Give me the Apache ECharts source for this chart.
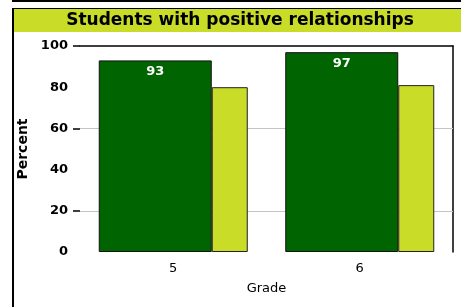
<!DOCTYPE html>
<html>
<head>
<meta charset="utf-8">
<style>
  html, body { margin: 0; padding: 0; background: #fff; }
  #chart { width: 461px; height: 307px; }
</style>
<script src="https://cdn.jsdelivr.net/npm/echarts@6/dist/echarts.min.js"></script>
</head>
<body>
<div id="chart"></div>
<script>
// data
const grades = ['5', '6'];
const students = [93, 97];   // dark green, labelled
const compare = [80, 81];    // light green, no label
const yTicks = [0, 20, 40, 60, 80, 100];
const gridValues = [20, 60]; // only these get a grey line + tick

const DARK = '#006400';
const LIGHT = '#c8dc28';
const FONT = 'DejaVu Sans';

const chart = echarts.init(document.getElementById('chart'), null, { renderer: 'canvas' });

chart.setOption({
  animation: false,
  textStyle: { fontFamily: FONT },
  graphic: [
    // frame + title band
    { type: 'rect', shape: { x: 12, y: 0, width: 449, height: 2 }, style: { fill: '#000' } },
    { type: 'rect', shape: { x: 12, y: 8, width: 449, height: 1 }, style: { fill: '#000' } },
    { type: 'rect', shape: { x: 12, y: 8, width: 2, height: 299 }, style: { fill: '#000' } },
    { type: 'rect', shape: { x: 14, y: 9, width: 447, height: 23 }, style: { fill: LIGHT } },
    {
      type: 'text', x: 240, y: 21,
      style: {
        text: 'Students with positive relationships',
        fill: '#000', font: 'bold 17px "DejaVu Sans"',
        align: 'center', verticalAlign: 'middle'
      }
    }
  ],
  grid: { left: 80, right: 8, top: 46, bottom: 55 },
  xAxis: [
    {
      type: 'category',
      data: grades,
      axisLine: { show: false },
      axisTick: { show: false },
      axisLabel: { color: '#000', fontSize: 13, margin: 10 },
      name: 'Grade',
      nameLocation: 'middle',
      nameGap: 30,
      nameTextStyle: { color: '#000', fontSize: 13 }
    },
    {
      type: 'category',
      data: grades,
      position: 'top',
      axisLine: { show: true, onZero: false, lineStyle: { color: '#000', width: 1.5 } },
      axisTick: { show: false },
      axisLabel: { show: false }
    }
  ],
  yAxis: [
    {
      type: 'value',
      min: 0, max: 100, interval: 20,
      axisLine: { show: false },
      axisTick: {
        show: true, length: 7, customValues: gridValues.concat([100]),
        lineStyle: { color: '#000', width: 1.5 }
      },
      axisLabel: {
        color: '#000', fontSize: 13, fontWeight: 'bold', margin: 12,
        customValues: yTicks
      },
      splitLine: { show: false },
      name: 'Percent',
      nameLocation: 'middle',
      nameGap: 48,
      nameTextStyle: { color: '#000', fontSize: 14, fontWeight: 'bold' }
    },
    {
      type: 'value',
      position: 'right',
      min: 0, max: 100,
      axisLine: { show: true, onZero: false, lineStyle: { color: '#000', width: 1.5 } },
      axisTick: { show: false },
      axisLabel: { show: false },
      splitLine: { show: false }
    }
  ],
  series: [
    {
      type: 'bar',
      data: students,
      barWidth: 113,
      barGap: '0%',
      itemStyle: { color: DARK, borderColor: '#111', borderWidth: 1 },
      label: {
        show: true, position: 'insideTop', distance: 5,
        color: '#fff', fontSize: 13, fontWeight: 'bold'
      },
      markLine: {
        silent: true,
        z: 1,
        symbol: 'none',
        label: { show: false },
        lineStyle: { color: '#c4c4c4', width: 1, type: 'solid' },
        data: gridValues.map(v => ({ yAxis: v }))
      }
    },
    {
      type: 'bar',
      data: compare,
      barWidth: 36,
      barGap: '0%',
      itemStyle: { color: LIGHT, borderColor: '#222', borderWidth: 1 }
    }
  ]
});
</script>
</body>
</html>
